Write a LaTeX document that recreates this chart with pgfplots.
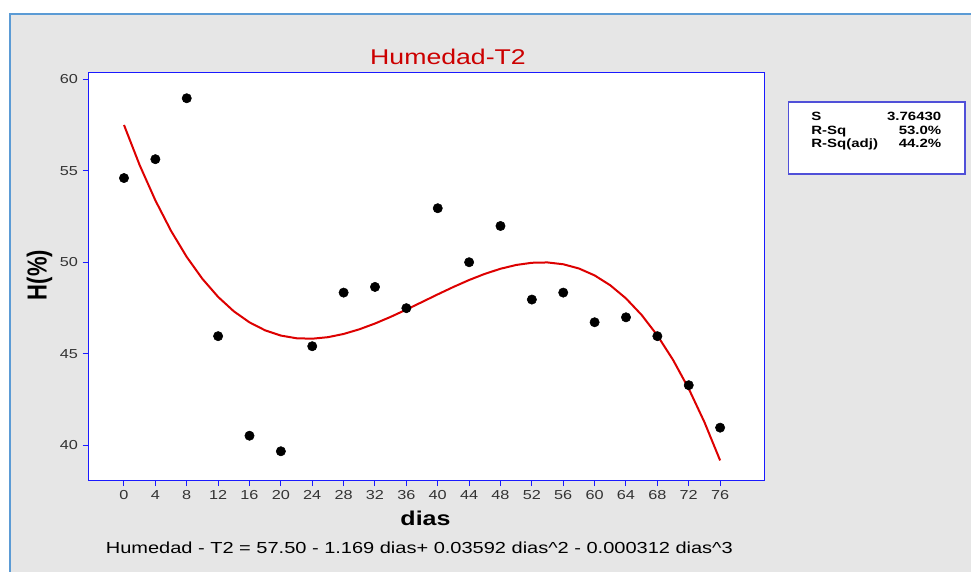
\documentclass[border=0pt]{standalone}
\usepackage{fontspec}
\setmainfont{Liberation Sans}[FakeStretch=1.25]
\newfontfamily\plainsans{Liberation Sans}
\usepackage{pgfplots}
\pgfplotsset{compat=1.18}
\definecolor{bgray}{HTML}{E6E6E6}
\definecolor{frameblue}{HTML}{5B9BD5}
\definecolor{axblue}{HTML}{1A1AFF}
\definecolor{fitred}{HTML}{DD0000}
\definecolor{titlered}{HTML}{CC0000}
\definecolor{boxblue}{HTML}{5050D8}

% measured humidity values
\pgfplotstableread{
dias H
0  54.60
4  55.63
8  58.96
12 45.96
16 40.52
20 39.67
24 45.41
28 48.34
32 48.65
36 47.49
40 52.95
44 50.00
48 51.98
52 47.96
56 48.34
60 46.72
64 46.99
68 45.96
72 43.28
76 40.96
}\humedad

% fitted cubic, sampled every 2 days
\pgfplotstableread{
dias H
0  57.500
2  55.303
4  53.379
6  51.712
8  50.287
10 49.090
12 48.105
14 47.318
16 46.714
18 46.277
20 45.992
22 45.845
24 45.821
26 45.904
28 46.080
30 46.334
32 46.651
34 47.015
36 47.412
38 47.826
40 48.244
42 48.649
44 49.028
46 49.364
48 49.643
50 49.850
52 49.970
54 49.988
56 49.889
58 49.658
60 49.280
62 48.739
64 48.023
66 47.115
68 45.999
70 44.662
72 43.088
74 41.262
76 39.169
}\ajuste

\begin{document}
\begin{tikzpicture}[x=1pt, y=1pt]
\useasboundingbox (-66.525,-69) rectangle (661.725,360);
\fill[white] (-66.525,-69) rectangle (661.725,360);
\fill[bgray] (-59.025,-69) rectangle (661.725,349.5);
\draw[frameblue, line width=1.5pt] (661.725,349.5) -- (-59.025,349.5) -- (-59.025,-69);

\begin{axis}[
    at={(0,0)}, anchor=south west,
    scale only axis, width=506.5pt, height=305.8pt,
    xmin=-4.5, xmax=81.6, ymin=38.1, ymax=60.38,
    xtick={0,4,...,76}, ytick={40,45,...,60},
    xtick pos=bottom, ytick pos=left,
    tick align=outside, major tick length=4.5pt,
    tick style={axblue, line width=0.75pt},
    axis line style={axblue, line width=0.75pt},
    axis background/.style={fill=white},
    ticklabel style={font=\fontsize{9.75}{11}\selectfont, text=black!80},
    /pgf/number format/assume math mode=true,
    clip=false,
]
\addplot[fitred, line width=1.5pt] table[x=dias, y=H] {\ajuste};
\addplot[only marks, mark=*, mark size=3.5pt, black] table[x=dias, y=H] {\humedad};
\end{axis}

% title and labels
\node[anchor=base, text=titlered, font=\fontsize{16}{18}\selectfont] at (269.5,311.25) {Humedad-T2};
\node[rotate=90] at (-36.9,153.75) {\scalebox{1}[1.25]{\plainsans\bfseries\fontsize{16.5}{18}\selectfont H(\%)}};
\node[anchor=base, font=\bfseries\fontsize{15}{17}\selectfont] at (252.6,-33.75) {dias};
\node[anchor=base, font=\fontsize{12}{14}\selectfont] at (248,-55)
  {Humedad - T2 = 57.50 - 1.169 dias+ 0.03592 dias\textasciicircum2 - 0.000312 dias\textasciicircum3};

% statistics box
\draw[boxblue, line width=1.2pt, fill=white] (524.7,229.5) rectangle (657.2,283.7);
\begin{scope}[every node/.style={font=\bfseries\fontsize{9}{10}\selectfont}]
\node[anchor=base west] at (538.5,269.5) {S};
\node[anchor=base west] at (538.5,259.35) {R-Sq};
\node[anchor=base west] at (538.5,249.2) {R-Sq(adj)};
\node[anchor=base east] at (643,269.5) {3.76430};
\node[anchor=base east] at (643,259.35) {53.0\%};
\node[anchor=base east] at (643,249.2) {44.2\%};
\end{scope}
\end{tikzpicture}
\end{document}
